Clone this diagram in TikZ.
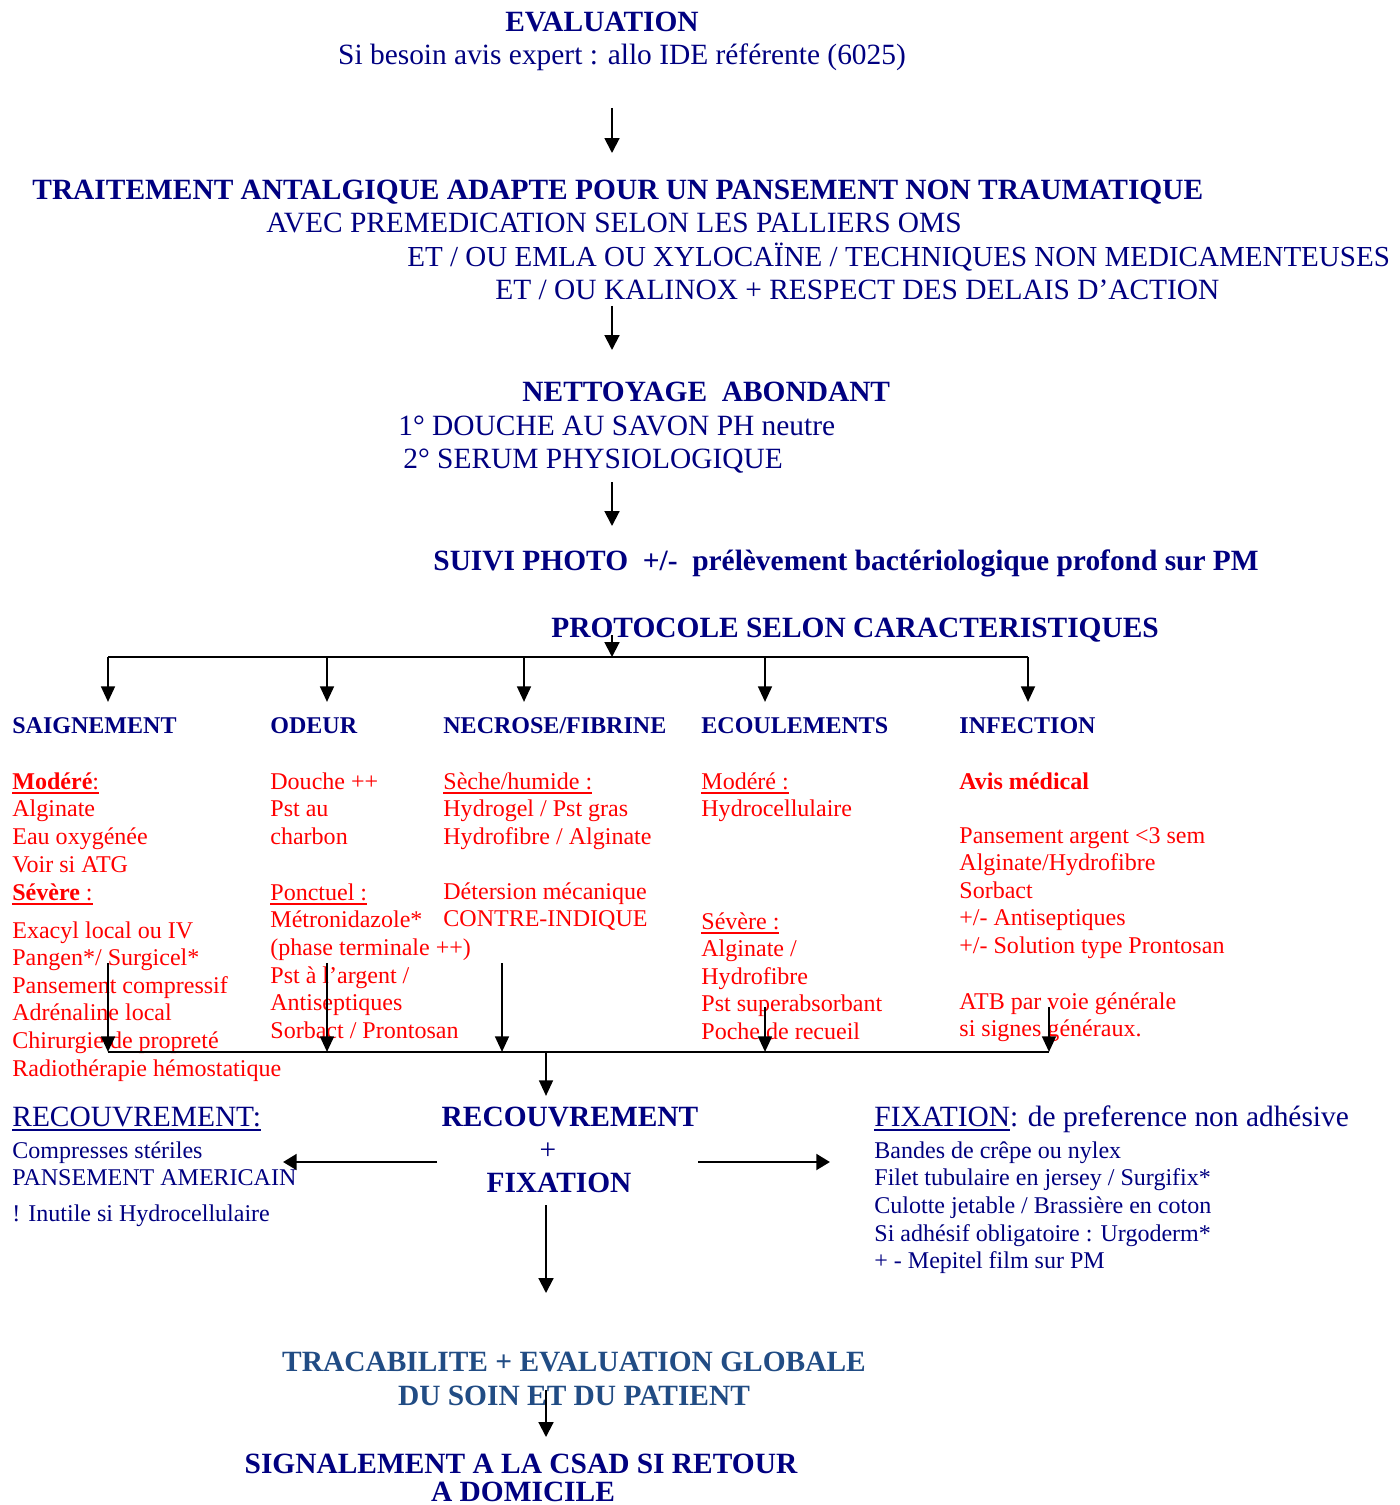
\documentclass[tikz,border=0pt]{standalone}
\usepackage{fontspec}
\setmainfont{Liberation Serif}
\usetikzlibrary{arrows.meta}
\definecolor{navy}{RGB}{0,0,128}
\definecolor{rouge}{RGB}{255,0,0}
\definecolor{steel}{RGB}{33,76,132}
\newcommand\blk[2]{{\fontsize{12.25}{#1}\selectfont\begin{tabular}[t]{@{}l@{}}#2\end{tabular}}}
\newcommand\myul[1]{\setbox0=\hbox{#1}\leavevmode\rlap{\rule[-2.3pt]{\wd0}{0.9pt}}\box0}
\begin{document}
\begin{tikzpicture}[x=0.51pt,y=-0.51pt,
  txt/.style={inner sep=0pt,anchor=base west},
  ctr/.style={inner sep=0pt,anchor=base},
  big/.style={font=\fontsize{15}{17}\selectfont},
  bigb/.style={font=\fontsize{15}{17}\selectfont\bfseries},
  small/.style={font=\fontsize{12.25}{14}\selectfont},
  smallb/.style={font=\fontsize{12.25}{14}\selectfont\bfseries},
  thinarrow/.style={line width=1.02pt,-{Triangle[length=7.6pt,width=7.6pt]}},
  colarrow/.style={line width=1.3pt,-{Triangle[length=8pt,width=7pt]}},
  busline/.style={line width=1.1pt},
  sidearrow/.style={line width=1.5pt,-{Triangle[length=7pt,width=8pt]}}]
\useasboundingbox (0,0) rectangle (1400,1505);

% ---- top section
\node[ctr,bigb,navy] (eval) at (602,32) {EVALUATION};
\node[ctr,big,navy] (expert) at (622,65) {Si besoin avis expert : allo IDE référente (6025)};
\node[txt,bigb,navy] (trait) at (32,200) {TRAITEMENT ANTALGIQUE ADAPTE POUR UN PANSEMENT NON TRAUMATIQUE};
\node[txt,big,navy] (trait2) at (266,233) {AVEC PREMEDICATION SELON LES PALLIERS OMS};
\node[txt,navy,font=\fontsize{14.8}{17}\selectfont] (trait3) at (407,267) {ET / OU EMLA OU XYLOCAÏNE / TECHNIQUES NON MEDICAMENTEUSES};
\node[txt,big,navy] (trait4) at (495,300) {ET / OU KALINOX + RESPECT DES DELAIS D’ACTION};
\node[txt,bigb,navy] (nett) at (522,402) {NETTOYAGE\ \ ABONDANT};
\node[txt,big,navy] (nett2) at (398,435) {1° DOUCHE AU SAVON PH neutre};
\node[txt,big,navy] (nett3) at (403,468) {2° SERUM PHYSIOLOGIQUE};
\node[txt,bigb,navy] (suivi) at (433,570) {SUIVI PHOTO\ \ +/-\ \ prélèvement bactériologique profond sur PM};
\node[txt,bigb,navy] (proto) at (551,637) {PROTOCOLE SELON CARACTERISTIQUES};

\coordinate (a1s) at (612,108); \coordinate (a1e) at (612,153);
\coordinate (a2s) at (612,306); \coordinate (a2e) at (612,350);
\coordinate (a3s) at (612,482); \coordinate (a3e) at (612,526);
\coordinate (a4s) at (612,635); \coordinate (a4e) at (612,657);
\draw[thinarrow] (a1s) -- (a1e);
\draw[thinarrow] (a2s) -- (a2e);
\draw[thinarrow] (a3s) -- (a3e);
\draw[thinarrow] (a4s) -- (a4e);

% ---- distribution bus
\coordinate (b1) at (108,657); \coordinate (b2) at (327,657); \coordinate (b3) at (524,657);
\coordinate (b4) at (765,657); \coordinate (b5) at (1028,657);
\coordinate (h1) at (108,702); \coordinate (h2) at (327,702); \coordinate (h3) at (524,702);
\coordinate (h4) at (765,702); \coordinate (h5) at (1028,702);
\draw[busline] (b1) -- (b5);
\foreach \i in {1,...,5} \draw[colarrow] (b\i) -- (h\i);

% ---- column headers
\node[txt,smallb,navy] (c1) at (12,733) {SAIGNEMENT};
\node[txt,smallb,navy] (c2) at (270,733) {ODEUR};
\node[txt,smallb,navy] (c3) at (443,733) {NECROSE/FIBRINE};
\node[txt,smallb,navy] (c4) at (701,733) {ECOULEMENTS};
\node[txt,smallb,navy] (c5) at (959,733) {INFECTION};

% ---- column 1
\node[txt,rouge] (c1a) at (12,789) {\blk{14.2pt}{\myul{\textbf{Modéré}:}\\ Alginate\\ Eau oxygénée\\ Voir si ATG\\ \myul{\textbf{Sévère} :}}};
\node[txt,rouge] (c1b) at (12,938) {\blk{14.08pt}{Exacyl local ou IV\\ Pangen*/ Surgicel*\\ Pansement compressif\\ Adrénaline local\\ Chirurgie de propreté\\ Radiothérapie hémostatique}};
% ---- column 2
\node[txt,rouge] (c2a) at (270,789) {\blk{14.05pt}{Douche ++\\ Pst au\\ charbon}};
\node[txt,rouge] (c2b) at (270,900) {\blk{14.15pt}{\myul{Ponctuel :}\\ Métronidazole*\\ (phase terminale ++)\\ Pst à l’argent /\\ Antiseptiques\\ Sorbact / Prontosan}};
% ---- column 3
\node[txt,rouge] (c3a) at (443,789) {\blk{14.05pt}{\myul{Sèche/humide :}\\ Hydrogel / Pst gras\\ Hydrofibre / Alginate}};
\node[txt,rouge] (c3b) at (443,899) {\blk{14.05pt}{Détersion mécanique\\ CONTRE-INDIQUE}};
% ---- column 4
\node[txt,rouge] (c4a) at (701,789) {\blk{14.05pt}{\myul{Modéré :}\\ Hydrocellulaire}};
\node[txt,rouge] (c4b) at (701,929) {\blk{14.1pt}{\myul{Sévère :}\\ Alginate /\\ Hydrofibre\\ Pst superabsorbant\\ Poche de recueil}};
% ---- column 5
\node[txt,smallb,rouge] (c5a) at (959,789) {Avis médical};
\node[txt,rouge] (c5b) at (959,843) {\blk{14.1pt}{Pansement argent <3 sem\\ Alginate/Hydrofibre\\ Sorbact\\ +/- Antiseptiques\\ +/- Solution type Prontosan}};
\node[txt,rouge] (c5c) at (959,1009) {\blk{14.05pt}{ATB par voie générale\\ si signes généraux.}};

% ---- collecting bus
\coordinate (u1) at (108,963); \coordinate (u2) at (327,963); \coordinate (u3) at (502,963);
\coordinate (u4) at (765,1007); \coordinate (u5) at (1049,1007);
\coordinate (d1) at (108,1052); \coordinate (d2) at (327,1052); \coordinate (d3) at (502,1052);
\coordinate (d4) at (765,1052); \coordinate (d5) at (1049,1052);
\coordinate (dm) at (546,1052); \coordinate (dme) at (546,1096);
\draw[busline] (d1) -- (d5);
\foreach \i in {1,...,5} \draw[colarrow] (u\i) -- (d\i);
\draw[colarrow] (dm) -- (dme);

% ---- recouvrement / fixation
\node[txt,big,navy] (recl) at (12,1126) {\myul{RECOUVREMENT:}};
\node[txt,navy] (recl2) at (12,1158) {\blk{14.2pt}{Compresses stériles\\ PANSEMENT AMERICAIN}};
\node[txt,small,navy] (recl3) at (12,1221) {! Inutile si Hydrocellulaire};
\node[ctr,bigb,navy] (recc) at (570,1126) {RECOUVREMENT};
\node[ctr,big,navy] (plus) at (548,1159) {+};
\node[ctr,bigb,navy] (fixc) at (559,1192) {FIXATION};
\node[txt,big,navy] (fixr) at (874,1126) {\myul{FIXATION}: de preference non adhésive};
\node[txt,navy] (fixr2) at (874,1158) {\blk{14.15pt}{Bandes de crêpe ou nylex\\ Filet tubulaire en jersey / Surgifix*\\ Culotte jetable / Brassière en coton\\ Si adhésif obligatoire : Urgoderm*\\ + - Mepitel film sur PM}};

\coordinate (ls) at (437,1162); \coordinate (le) at (283,1162);
\coordinate (rs) at (698,1162); \coordinate (re) at (830,1162);
\draw[sidearrow] (ls) -- (le);
\draw[sidearrow] (rs) -- (re);
\coordinate (m1s) at (546,1205); \coordinate (m1e) at (546,1293);
\draw[thinarrow] (m1s) -- (m1e);

% ---- bottom
\node[ctr,bigb,steel] (trac) at (574,1371) {TRACABILITE + EVALUATION GLOBALE};
\node[ctr,bigb,steel] (trac2) at (574,1405) {DU SOIN ET DU PATIENT};
\coordinate (m2s) at (546,1390); \coordinate (m2e) at (546,1437);
\draw[thinarrow] (m2s) -- (m2e);
\node[ctr,bigb,navy] (sig) at (521,1473) {SIGNALEMENT A LA CSAD SI RETOUR};
\node[ctr,bigb,navy] (sig2) at (523,1501) {A DOMICILE};
\end{tikzpicture}
\end{document}
